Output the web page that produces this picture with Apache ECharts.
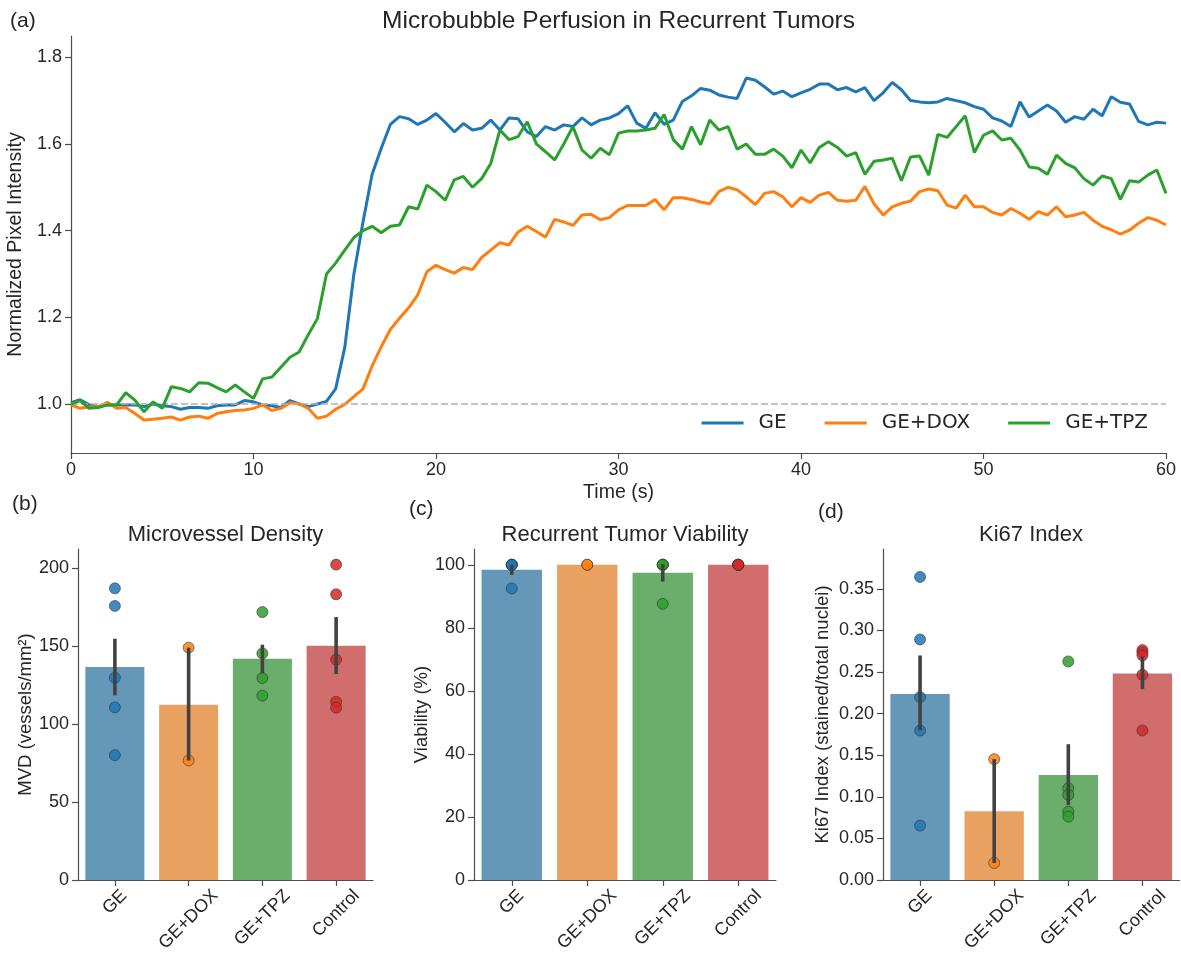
<!DOCTYPE html>
<html><head><meta charset="utf-8">
<script src="https://cdn.jsdelivr.net/npm/echarts@6/dist/echarts.min.js"></script>
<style>html,body{margin:0;padding:0;background:#fff}#c{width:1181px;height:954px}</style>
</head><body><div id="c"></div>
<script>
// ---------------- DATA ----------------
const TIME_STEP = 0.5; // seconds between samples, t = 0 .. 60
const perfGE = [
1.003,1.010,0.998,0.994,0.998,0.998,0.998,0.998,0.994,1.000,
0.996,0.994,0.988,0.992,0.992,0.990,0.996,0.998,0.998,1.008,
1.005,0.998,0.996,0.992,1.008,1.000,0.994,1.000,1.006,1.035,
1.130,1.300,1.420,1.530,1.590,1.645,1.663,1.658,1.645,1.655,
1.670,1.650,1.628,1.647,1.632,1.636,1.655,1.632,1.660,1.658,
1.628,1.617,1.640,1.632,1.644,1.640,1.660,1.644,1.655,1.660,
1.670,1.688,1.648,1.636,1.672,1.645,1.655,1.698,1.711,1.728,
1.724,1.713,1.708,1.705,1.752,1.747,1.732,1.715,1.722,1.709,
1.718,1.726,1.738,1.738,1.725,1.730,1.720,1.730,1.700,1.718,
1.742,1.725,1.700,1.697,1.695,1.697,1.705,1.700,1.695,1.686,
1.680,1.660,1.653,1.640,1.697,1.662,1.676,1.690,1.676,1.650,
1.663,1.657,1.680,1.665,1.709,1.696,1.692,1.652,1.644,1.650,
1.648];
const perfDOX = [
0.998,0.990,0.993,0.994,1.004,0.990,0.992,0.978,0.963,0.965,
0.967,0.970,0.963,0.970,0.972,0.967,0.978,0.982,0.985,0.986,
0.990,0.998,0.985,0.990,1.003,1.000,0.990,0.967,0.972,0.988,
0.999,1.017,1.035,1.088,1.132,1.172,1.198,1.222,1.252,1.305,
1.320,1.310,1.302,1.315,1.310,1.338,1.355,1.372,1.367,1.397,
1.410,1.398,1.385,1.426,1.420,1.412,1.436,1.438,1.425,1.430,
1.448,1.458,1.458,1.458,1.472,1.448,1.476,1.476,1.472,1.466,
1.462,1.490,1.500,1.494,1.478,1.460,1.486,1.490,1.478,1.455,
1.476,1.465,1.482,1.488,1.470,1.468,1.470,1.502,1.462,1.436,
1.455,1.463,1.468,1.490,1.496,1.492,1.459,1.452,1.482,1.455,
1.455,1.442,1.436,1.451,1.440,1.426,1.444,1.436,1.455,1.432,
1.436,1.442,1.424,1.410,1.402,1.392,1.401,1.417,1.430,1.424,
1.413];
const perfTPZ = [
1.000,1.008,0.990,0.992,0.998,0.998,1.026,1.009,0.982,1.005,
0.990,1.040,1.036,1.028,1.049,1.048,1.038,1.028,1.044,1.028,
1.013,1.058,1.062,1.085,1.108,1.120,1.160,1.197,1.300,1.325,
1.355,1.384,1.400,1.410,1.395,1.410,1.413,1.455,1.450,1.505,
1.490,1.470,1.517,1.525,1.500,1.520,1.555,1.632,1.610,1.617,
1.651,1.600,1.582,1.563,1.600,1.640,1.586,1.567,1.590,1.575,
1.625,1.630,1.630,1.632,1.636,1.668,1.610,1.588,1.640,1.598,
1.655,1.632,1.640,1.588,1.600,1.576,1.576,1.588,1.572,1.545,
1.586,1.556,1.592,1.605,1.592,1.572,1.580,1.530,1.560,1.563,
1.567,1.515,1.570,1.572,1.528,1.622,1.615,1.640,1.665,1.580,
1.620,1.630,1.609,1.613,1.586,1.547,1.544,1.530,1.574,1.555,
1.545,1.520,1.505,1.526,1.520,1.472,1.515,1.512,1.528,1.540,
1.486];
const perfSeriesNames = ['GE', 'GE+DOX', 'GE+TPZ'];
const perfYTicks = [1.0, 1.2, 1.4, 1.6, 1.8];
const perfXTicks = [0, 10, 20, 30, 40, 50, 60];

const groups = ['GE', 'GE+DOX', 'GE+TPZ', 'Control'];

const mvdMeans = [136.5, 112.3, 141.8, 150.1];
const mvdCI = [[118.3, 154.6], [76.6, 148.9], [132.4, 150.8], [132.0, 168.5]];
const mvdPoints = [[186.9, 175.6, 129.6, 110.6, 80.0], [148.9, 76.6], [171.7, 145.2, 129.4, 118.1], [202.1, 183.1, 141.2, 114.2, 110.4]];
const mvdTicks = [0, 50, 100, 150, 200];

const viaMeans = [98.4, 100, 97.5, 100];
const viaCI = [[96.8, 100], null, [94.7, 100.2], null];
const viaPoints = [[100, 100, 100, 100, 92.5], [100, 100], [100, 100, 100, 100, 87.6], [100, 100, 100, 100, 100]];
const viaTicks = [0, 20, 40, 60, 80, 100];

const kiMeans = [0.2235, 0.0827, 0.1264, 0.2484];
const kiCI = [[0.180, 0.270], [0.0205, 0.1453], [0.0903, 0.1633], [0.2295, 0.2689]];
const kiPoints = [[0.3644, 0.2893, 0.2199, 0.1798, 0.0654], [0.1453, 0.0205], [0.2628, 0.1104, 0.1023, 0.0823, 0.0762], [0.2765, 0.2737, 0.2701, 0.2468, 0.1798]];
const kiTicks = [0, 0.05, 0.10, 0.15, 0.20, 0.25, 0.30, 0.35];

// ---------------- STYLE ----------------
const FONT = "'Liberation Sans', Arial, sans-serif";
const TXT = '#262626';
const AX = '#4d4d4d';
const lineColors = ['#1f77b4', '#ff7f0e', '#2ca02c'];
const ptColors = ['#1f77b4', '#ff7f0e', '#2ca02c', '#d62728'];
const barColors = ['#3274a1', '#e1812c', '#3a923a', '#c03d3e'];
// per-label box size so rotated labels sit centred under the tick, longer ones lower (matplotlib look)
const labelBox = {'GE': 20, 'GE+DOX': 44.6, 'GE+TPZ': 42.2, 'Control': 36};

const axisLineStyle = {show: true, lineStyle: {color: AX, width: 1.2}};
const tickStyle = {show: true, length: 6, lineStyle: {color: AX, width: 1.2}};
const tickFont = {color: TXT, fontSize: 18, fontFamily: FONT};
const nameFont = {color: TXT, fontSize: 18.5, fontFamily: FONT};

const grids = [
  {left: 71, top: 36, width: 1095, height: 417},
  {left: 78, top: 549, width: 295, height: 331},
  {left: 474, top: 549, width: 302, height: 331},
  {left: 883, top: 549, width: 296.5, height: 331}
].map(g => Object.assign({outerBoundsMode: 'none', containLabel: false}, g));

const xAxes = [], yAxes = [], series = [];

// top panel
xAxes.push({
  type: 'value', gridIndex: 0, min: 0, max: 60,
  name: 'Time (s)', nameLocation: 'middle', nameGap: 30,
  nameTextStyle: Object.assign({}, nameFont, {fontSize: 19.5}),
  axisLine: axisLineStyle, axisTick: Object.assign({customValues: perfXTicks}, tickStyle),
  axisLabel: Object.assign({customValues: perfXTicks, margin: 8}, tickFont),
  splitLine: {show: false}
});
yAxes.push({
  type: 'value', gridIndex: 0, min: 0.887, max: 1.849,
  name: 'Normalized Pixel Intensity', nameLocation: 'middle', nameGap: 44,
  nameTextStyle: Object.assign({}, nameFont, {fontSize: 19.5}),
  axisLine: axisLineStyle, axisTick: Object.assign({customValues: perfYTicks}, tickStyle),
  axisLabel: Object.assign({customValues: perfYTicks, margin: 9, formatter: v => Number(v).toFixed(1)}, tickFont),
  splitLine: {show: false}
});
[perfGE, perfDOX, perfTPZ].forEach((arr, k) => {
  const s = {
    type: 'line', name: perfSeriesNames[k], xAxisIndex: 0, yAxisIndex: 0,
    data: arr.map((v, i) => [i * TIME_STEP, v]),
    showSymbol: false, symbol: 'none', lineStyle: {color: lineColors[k], width: 3},
    itemStyle: {color: lineColors[k]}, animation: false, z: 3 + k
  };
  if (k === 0) {
    s.markLine = {silent: true, symbol: 'none', label: {show: false},
      lineStyle: {color: '#b0b0b0', type: [7, 3], width: 1.5}, data: [{yAxis: 1}], animation: false};
  }
  series.push(s);
});

function barPanel(idx, means, ci, pts, ticks, yMax, yName, nameGap, fmt) {
  xAxes.push({
    type: 'category', gridIndex: idx, boundaryGap: true,
    data: groups.map(g => ({value: g, textStyle: {
      align: 'center', verticalAlign: 'top', lineHeight: labelBox[g],
      padding: [0, labelBox[g], 0, 0]}})),
    axisLine: axisLineStyle, axisTick: Object.assign({alignWithLabel: true, interval: 0}, tickStyle),
    axisLabel: Object.assign({interval: 0, rotate: 45, align: 'center', verticalAlign: 'top', margin: 8}, tickFont),
    splitLine: {show: false}
  });
  yAxes.push({
    type: 'value', gridIndex: idx, min: 0, max: yMax,
    name: yName, nameLocation: 'middle', nameGap: nameGap, nameTextStyle: nameFont,
    axisLine: axisLineStyle, axisTick: Object.assign({customValues: ticks}, tickStyle),
    axisLabel: Object.assign({customValues: ticks, margin: 9, formatter: fmt}, tickFont),
    splitLine: {show: false}
  });
  const ai = xAxes.length - 1;
  series.push({
    type: 'bar', xAxisIndex: ai, yAxisIndex: ai, barWidth: '80%', animation: false,
    data: means.map((m, i) => ({value: m, itemStyle: {color: barColors[i], opacity: 0.75}})), z: 2
  });
  const sd = [];
  pts.forEach((arr, i) => arr.forEach(v => sd.push({value: [i, v], itemStyle: {color: ptColors[i]}})));
  series.push({
    type: 'scatter', xAxisIndex: ai, yAxisIndex: ai, symbolSize: 11, animation: false,
    itemStyle: {borderColor: '#333', borderWidth: 0.7, opacity: 0.85}, data: sd, z: 3
  });
  const ed = [];
  ci.forEach((c, i) => { if (c) ed.push([i, c[0], c[1]]); });
  series.push({
    type: 'custom', xAxisIndex: ai, yAxisIndex: ai, animation: false, z: 4,
    encode: {x: 0, y: [1, 2]}, data: ed,
    renderItem: function (params, api) {
      const x = api.value(0);
      const p1 = api.coord([x, api.value(1)]);
      const p2 = api.coord([x, api.value(2)]);
      return {type: 'line', shape: {x1: p1[0], y1: p1[1], x2: p2[0], y2: p2[1]},
        style: {stroke: '#424242', lineWidth: 3.6}};
    }
  });
}
barPanel(1, mvdMeans, mvdCI, mvdPoints, mvdTicks, 212.1, 'MVD (vessels/mm²)', 43, v => String(v));
barPanel(2, viaMeans, viaCI, viaPoints, viaTicks, 105, 'Viability (%)', 43, v => String(v));
barPanel(3, kiMeans, kiCI, kiPoints, kiTicks, 0.398, 'Ki67 Index (stained/total nuclei)', 51, v => Number(v).toFixed(2));

const titleFont = {color: TXT, fontSize: 22, fontFamily: FONT, fontWeight: 'normal'};
const letterFont = {color: TXT, fontSize: 21, fontFamily: FONT, fontWeight: 'normal'};
const titles = [
  {text: '(a)', left: 10, top: 11, textStyle: letterFont},
  {text: 'Microbubble Perfusion in Recurrent Tumors', left: 618.5, textAlign: 'center', top: 9,
    textStyle: Object.assign({}, titleFont, {fontSize: 24.5})},
  {text: '(b)', left: 12, top: 494, textStyle: letterFont},
  {text: 'Microvessel Density', left: 225.5, textAlign: 'center', top: 524, textStyle: titleFont},
  {text: '(c)', left: 409, top: 499, textStyle: letterFont},
  {text: 'Recurrent Tumor Viability', left: 625, textAlign: 'center', top: 524, textStyle: titleFont},
  {text: '(d)', left: 818, top: 502, textStyle: letterFont},
  {text: 'Ki67 Index', left: 1031, textAlign: 'center', top: 524, textStyle: titleFont}
].map(t => Object.assign({padding: 0}, t));

const chart = echarts.init(document.getElementById('c'), null, {renderer: 'canvas'});
chart.setOption({
  backgroundColor: '#ffffff',
  animation: false,
  title: titles,
  legend: {
    data: perfSeriesNames, right: 33, top: 413, padding: 0, icon: 'rect',
    itemWidth: 42, itemHeight: 3, itemGap: 38,
    textStyle: {fontFamily: "'DejaVu Sans', sans-serif", fontSize: 20, color: TXT, padding: [0, 0, 0, 10]}
  },
  grid: grids,
  xAxis: xAxes,
  yAxis: yAxes,
  series: series
});
</script></body></html>
